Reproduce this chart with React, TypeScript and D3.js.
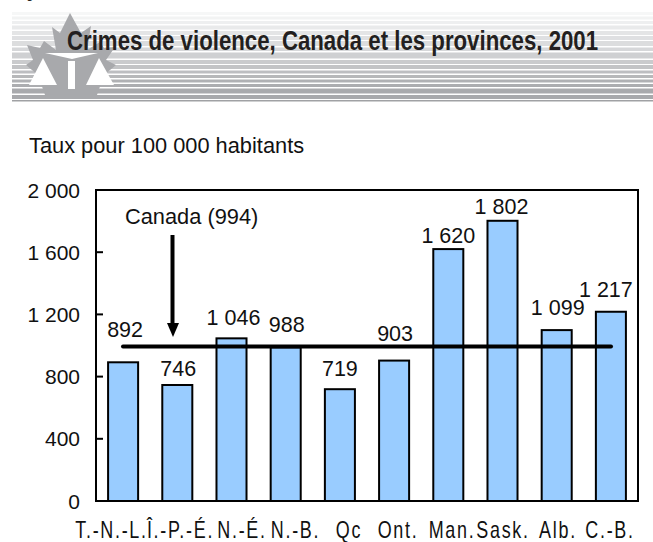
import React from "react";
import * as d3 from "d3";

const categories = ["T.-N.-L.", "Î.-P.-É.", "N.-É.", "N.-B.", "Qc", "Ont.", "Man.", "Sask.", "Alb.", "C.-B."];
const rates = [892, 746, 1046, 988, 719, 903, 1620, 1802, 1099, 1217];
const labels = ["892", "746", "1 046", "988", "719", "903", "1 620", "1 802", "1 099", "1 217"];
const canadaRate = 994;
const yTicks = [0, 400, 800, 1200, 1600, 2000];
const yTickLabels = ["0", "400", "800", "1 200", "1 600", "2 000"];

// layout nudges (px)
const labelDx = [2, 1, 2, 1, 0, 1, 0, -1, 1, -5];
const labelBase = [337, 376, 325, 332, 376, 341, 243, 214, 315, 297];
const catCenter = [111.5, 180.5, 242, 295.5, 349, 398, 452, 503, 558, 610];
const bandStripes = [
  [12, 3, "#f6f7f7"], [16.5, 3, "#f2f3f3"], [21, 3, "#eeeff0"], [25.5, 4, "#e9eaeb"], [31, 4, "#e4e5e6"],
  [36, 4, "#dfe0e2"], [41, 5, "#dcddde"], [47.5, 3.5, "#d6d7d9"], [52.5, 6, "#cfd0d2"], [60, 4, "#cacbcd"],
  [65, 4, "#c3c4c6"], [70.5, 3, "#bdbec1"], [75, 3, "#b7b8ba"], [79.5, 3, "#b0b1b4"], [84, 3, "#acadb0"], [88.5, 5, "#a9aaad"], [95, 4, "#a8a9ac"], [100, 1.5, "#a0a1a4"],
] as const;

const F = "'Liberation Sans', Arial, sans-serif";

export default function App() {
  const x = d3.scaleBand<string>().domain(categories).range([96, 638]).paddingInner(0.446).paddingOuter(0.223);
  const y = d3.scaleLinear().domain([0, 2000]).range([501, 190]);
  return (
    <svg width={653} height={542} style={{ position: "absolute", left: 0, top: 0 }} fontFamily={F}>
      <text x={26} y={1} fontSize={14} fill="#222">9</text>
      {bandStripes.map(([sy, h, c], i) => (
        <rect key={i} x={12} y={sy} width={641} height={h} fill={c} />
      ))}
      <path d="M70 13 L81 33 L91 26 L87 50 L100 42 L104 48 L115 47 L106 60 L116 65 L104 75 L97 95 L45 95 L38 75 L26 65 L33 60 L27 45 L40 48 L44 41 L56 50 L52 27 L60 33 Z" fill="#a8a9ac" />
      <path d="M45 53 L98 53 L72 59 Z" fill="#ffffff" />
      <rect x={68} y={61} width={7} height={28} fill="#ffffff" />
      <path d="M29 85 L43 58 L57 85 Z M86 85 L99 58 L114 85 Z" fill="#ffffff" />
      <text transform="translate(67,50) scale(0.78,1)" fontSize={28.5} fontWeight={700} fill="#231f20">Crimes de violence, Canada et les provinces, 2001</text>
      <text x={29} y={153} fontSize={21.8} fill="#111">Taux pour 100 000 habitants</text>

      {categories.map((c, i) => (
        <rect key={c} x={x(c)} y={y(rates[i])} width={x.bandwidth()} height={501 - y(rates[i])} fill="#99ccff" stroke="#000" strokeWidth={2} />
      ))}
      <path d="M96 190 H638 V501 H96 Z" fill="none" stroke="#000" strokeWidth={2} />
      {yTicks.map((t, i) => (
        <g key={t}>
          <line x1={96} x2={103} y1={y(t)} y2={y(t)} stroke="#000" strokeWidth={2} />
          <text x={80} y={y(t) + 7.5} textAnchor="end" fontSize={21} fill="#111">{yTickLabels[i]}</text>
        </g>
      ))}
      {categories.map((c, i) => (
        <text key={c} transform={`translate(${catCenter[i]},538) scale(0.78,1)`} textAnchor="middle" fontSize={23} letterSpacing={2.2} fill="#111">{c}</text>
      ))}
      {categories.map((c, i) => (
        <text key={c} x={(x(c) ?? 0) + x.bandwidth() / 2 + labelDx[i]} y={labelBase[i]} textAnchor="middle" fontSize={21.5} fill="#111">{labels[i]}</text>
      ))}
      <line x1={123} x2={611} y1={y(canadaRate)} y2={y(canadaRate)} stroke="#000" strokeWidth={4} strokeLinecap="round" />
      <text x={125} y={224} fontSize={21.8} fill="#111">Canada (994)</text>
      <line x1={172.5} x2={172.5} y1={235} y2={325} stroke="#000" strokeWidth={4} />
      <path d="M167 323 L179 323 L173 337 Z" fill="#000" />
    </svg>
  );
}
